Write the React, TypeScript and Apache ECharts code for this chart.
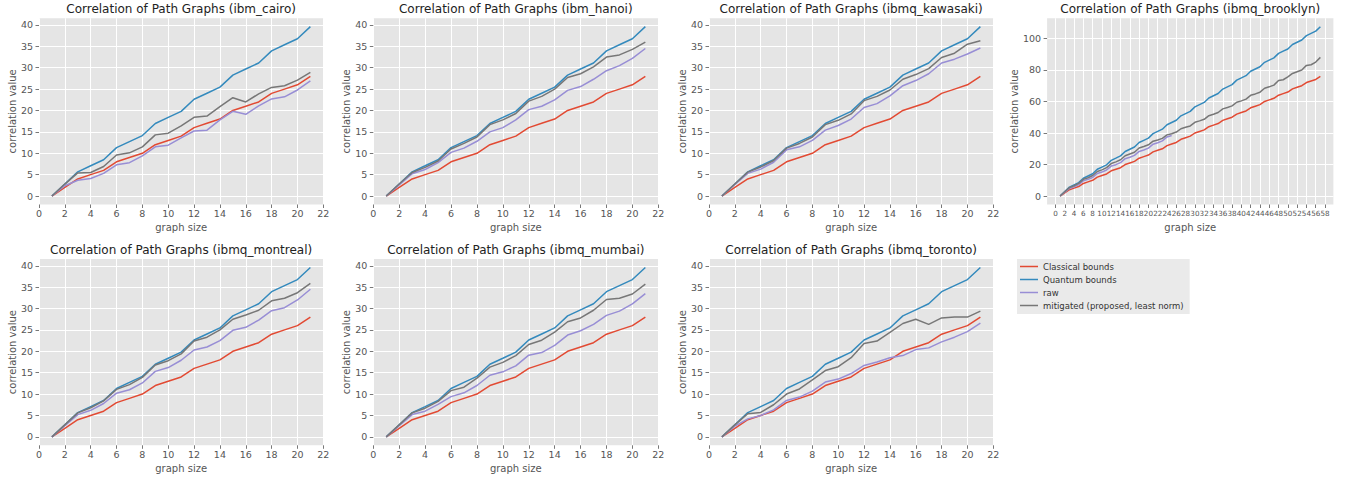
import React, { useEffect, useRef } from "react";
import * as echarts from "echarts";

// ---------- data ----------
const SERIES_NAMES = [
  "Classical bounds",
  "Quantum bounds",
  "raw",
  "mitigated (proposed, least norm)",
];

const GRAPH_SIZES = [1, 2, 3, 4, 5, 6, 7, 8, 9, 10, 11, 12, 13, 14, 15, 16, 17, 18, 19, 20, 21];
const GRAPH_SIZES_BROOKLYN = [
  1, 2, 3, 4, 5, 6, 7, 8, 9, 10, 11, 12, 13, 14, 15, 16, 17, 18, 19, 20, 21, 22, 23, 24, 25, 26, 27, 28, 29,
  30, 31, 32, 33, 34, 35, 36, 37, 38, 39, 40, 41, 42, 43, 44, 45, 46, 47, 48, 49, 50, 51, 52, 53, 54, 55, 56, 57,
];

const CLASSICAL = [0, 2, 4, 5, 6, 8, 9, 10, 12, 13, 14, 16, 17, 18, 20, 21, 22, 24, 25, 26, 28];
const QUANTUM = [0, 2.83, 5.66, 7.07, 8.49, 11.31, 12.73, 14.14, 16.97, 18.38, 19.8, 22.63, 24.04, 25.46, 28.28, 29.7, 31.11, 33.94, 35.36, 36.77, 39.6];

const CAIRO_RAW = [0, 2.4, 3.7, 4.1, 5.3, 7.3, 7.8, 9.4, 11.5, 11.9, 13.6, 15.2, 15.4, 17.8, 19.8, 19.1, 21.1, 22.7, 23.2, 24.8, 26.9];
const CAIRO_MIT = [0, 2.8, 5.4, 5.5, 6.9, 9.6, 10.1, 11.5, 14.3, 14.7, 16.4, 18.4, 18.7, 20.9, 23.0, 22.0, 23.9, 25.4, 25.8, 27.1, 28.9];

const HANOI_RAW = [0, 2.6, 5.2, 6.2, 7.8, 10.2, 11.2, 12.8, 15.0, 16.0, 17.8, 20.2, 21.0, 22.5, 24.7, 25.6, 27.3, 29.3, 30.5, 32.2, 34.5];
const HANOI_MIT = [0, 2.8, 5.5, 6.7, 8.2, 11.0, 12.3, 13.8, 16.7, 17.8, 19.3, 22.2, 23.3, 25.0, 27.7, 28.6, 30.2, 32.5, 33.0, 34.3, 36.0];

const KAWASAKI_RAW = [0, 2.7, 5.3, 6.3, 7.9, 10.8, 11.5, 13.0, 15.4, 16.5, 18.0, 20.7, 21.6, 23.4, 25.8, 27.0, 28.6, 31.1, 32.0, 33.2, 34.6];
const KAWASAKI_MIT = [0, 2.8, 5.6, 6.8, 8.3, 11.2, 12.3, 13.8, 16.7, 17.7, 19.2, 22.3, 23.3, 24.8, 27.3, 28.4, 29.8, 32.4, 33.4, 35.5, 36.3];

const BROOKLYN_CLASSICAL = [
  0, 2, 4, 5, 6, 8, 9, 10, 12, 13, 14, 16, 17, 18, 20, 21, 22, 24, 25, 26, 28, 29, 30, 32, 33, 34, 36, 37, 38,
  40, 41, 42, 44, 45, 46, 48, 49, 50, 52, 53, 54, 56, 57, 58, 60, 61, 62, 64, 65, 66, 68, 69, 70, 72, 73, 74, 76,
];
const BROOKLYN_QUANTUM = [
  0, 2.83, 5.66, 7.07, 8.49, 11.31, 12.73, 14.14, 16.97, 18.38, 19.8, 22.63, 24.04, 25.46, 28.28, 29.7, 31.11,
  33.94, 35.36, 36.77, 39.6, 41.01, 42.43, 45.25, 46.67, 48.08, 50.91, 52.33, 53.74, 56.57, 57.98, 59.4, 62.23,
  63.64, 65.05, 67.88, 69.3, 70.71, 73.54, 74.95, 76.37, 79.2, 80.61, 82.02, 84.85, 86.27, 87.68, 90.51, 91.92,
  93.34, 96.17, 97.58, 98.99, 101.82, 103.24, 104.65, 107.48,
];
const BROOKLYN_RAW = [
  0, 2.5, 4.8, 5.8, 7.2, 9.6, 10.6, 11.8, 14.3, 15.2, 16.5, 19.0, 19.9, 21.2, 23.7, 24.6, 25.8, 28.3, 29.2, 30.4,
  32.9, 33.8, 35.0, 37.5, 38.4,
];
const BROOKLYN_MIT = [
  0, 2.7, 5.3, 6.5, 8.0, 10.6, 11.6, 13.0, 15.6, 16.6, 18.0, 20.6, 21.7, 23.0, 25.6, 26.7, 27.8, 30.5, 31.4, 32.5,
  34.8, 35.6, 36.6, 38.8, 39.5, 40.6, 42.7, 43.6, 44.5, 46.8, 47.7, 48.7, 51.0, 51.9, 53.0, 55.3, 56.2, 57.2, 59.5,
  60.4, 61.5, 63.9, 64.8, 65.9, 68.4, 69.3, 70.4, 73.3, 73.8, 75.6, 77.8, 78.9, 80.0, 82.9, 83.3, 85.0, 88.0,
];

const MONTREAL_RAW = [0, 2.6, 5.2, 6.2, 7.8, 10.2, 11.0, 12.6, 15.3, 16.2, 17.9, 20.3, 21.0, 22.5, 24.9, 25.6, 27.3, 29.5, 30.2, 32.0, 34.5];
const MONTREAL_MIT = [0, 2.8, 5.6, 6.8, 8.4, 11.1, 12.2, 13.9, 16.8, 17.8, 19.4, 22.4, 23.3, 25.0, 27.5, 28.5, 29.6, 31.8, 32.4, 33.7, 35.9];

const MUMBAI_RAW = [0, 2.6, 5.2, 6.0, 7.6, 9.4, 10.3, 12.0, 14.4, 15.2, 16.6, 19.1, 19.7, 21.4, 23.8, 24.8, 26.3, 28.4, 29.4, 31.1, 33.5];
const MUMBAI_MIT = [0, 2.8, 5.6, 6.7, 8.3, 10.8, 11.6, 13.7, 16.3, 17.4, 19.0, 21.6, 22.6, 24.5, 26.9, 27.8, 29.6, 32.1, 32.4, 33.4, 35.7];

const TORONTO_RAW = [0, 2.5, 4.2, 5.0, 6.3, 8.5, 9.3, 10.7, 12.8, 13.5, 14.8, 16.7, 17.5, 18.5, 19.0, 20.4, 20.8, 22.2, 23.3, 24.6, 26.6];
const TORONTO_MIT = [0, 2.8, 5.4, 5.7, 7.5, 10.0, 11.2, 13.3, 15.5, 16.4, 18.5, 21.8, 22.4, 24.4, 26.5, 27.5, 26.3, 27.8, 28.0, 28.0, 29.4];

const X_TICKS_21 = [0, 2, 4, 6, 8, 10, 12, 14, 16, 18, 20, 22];
const X_TICKS_BROOKLYN = [
  0, 2, 4, 6, 8, 10, 12, 14, 16, 18, 20, 22, 24, 26, 28, 30, 32, 34, 36, 38, 40, 42, 44, 46, 48, 50, 52, 54, 56, 58,
];
const Y_TICKS_40 = [0, 5, 10, 15, 20, 25, 30, 35, 40];
const Y_TICKS_BROOKLYN = [0, 20, 40, 60, 80, 100];

const DEVICES = ["ibm_cairo", "ibm_hanoi", "ibmq_kawasaki", "ibmq_brooklyn", "ibmq_montreal", "ibmq_mumbai", "ibmq_toronto"];

// ---------- styles / layout ----------
const COLORS = ["#E24A33", "#348ABD", "#988ED5", "#777777"];
const FONT = "DejaVu Sans";
const ROW_TOPS = [18.2, 259];
const PLOT_H = 186.3;
const COLS = [
  { left: 39, width: 284.3 },
  { left: 373.3, width: 285 },
  { left: 709, width: 284.3 },
  { left: 1047.1, width: 286.3 },
];

type Panel = {
  title: string;
  sizes: number[];
  classical: number[];
  quantum: number[];
  raw: number[];
  mit: number[];
  xTicks: number[];
  yTicks: number[];
  row: number;
  col: number;
  xLabelSize: number;
};

const PANELS: Panel[] = [
  { title: DEVICES[0], sizes: GRAPH_SIZES, classical: CLASSICAL, quantum: QUANTUM, raw: CAIRO_RAW, mit: CAIRO_MIT, xTicks: X_TICKS_21, yTicks: Y_TICKS_40, row: 0, col: 0, xLabelSize: 9.5 },
  { title: DEVICES[1], sizes: GRAPH_SIZES, classical: CLASSICAL, quantum: QUANTUM, raw: HANOI_RAW, mit: HANOI_MIT, xTicks: X_TICKS_21, yTicks: Y_TICKS_40, row: 0, col: 1, xLabelSize: 9.5 },
  { title: DEVICES[2], sizes: GRAPH_SIZES, classical: CLASSICAL, quantum: QUANTUM, raw: KAWASAKI_RAW, mit: KAWASAKI_MIT, xTicks: X_TICKS_21, yTicks: Y_TICKS_40, row: 0, col: 2, xLabelSize: 9.5 },
  { title: DEVICES[3], sizes: GRAPH_SIZES_BROOKLYN, classical: BROOKLYN_CLASSICAL, quantum: BROOKLYN_QUANTUM, raw: BROOKLYN_RAW, mit: BROOKLYN_MIT, xTicks: X_TICKS_BROOKLYN, yTicks: Y_TICKS_BROOKLYN, row: 0, col: 3, xLabelSize: 7.2 },
  { title: DEVICES[4], sizes: GRAPH_SIZES, classical: CLASSICAL, quantum: QUANTUM, raw: MONTREAL_RAW, mit: MONTREAL_MIT, xTicks: X_TICKS_21, yTicks: Y_TICKS_40, row: 1, col: 0, xLabelSize: 9.5 },
  { title: DEVICES[5], sizes: GRAPH_SIZES, classical: CLASSICAL, quantum: QUANTUM, raw: MUMBAI_RAW, mit: MUMBAI_MIT, xTicks: X_TICKS_21, yTicks: Y_TICKS_40, row: 1, col: 1, xLabelSize: 9.5 },
  { title: DEVICES[6], sizes: GRAPH_SIZES, classical: CLASSICAL, quantum: QUANTUM, raw: TORONTO_RAW, mit: TORONTO_MIT, xTicks: X_TICKS_21, yTicks: Y_TICKS_40, row: 1, col: 2, xLabelSize: 9.5 },
];

function buildOption() {
  const grids: any[] = [];
  const xAxes: any[] = [];
  const yAxes: any[] = [];
  const series: any[] = [];
  const graphics: any[] = [];

  PANELS.forEach((p, i) => {
    const c = COLS[p.col];
    const top = ROW_TOPS[p.row];
    grids.push({
      left: c.left,
      top,
      width: c.width,
      height: PLOT_H,
      show: true,
      backgroundColor: "#E5E5E5",
      borderWidth: 0,
      containLabel: false,
    });

    const xMinD = p.sizes[0];
    const xMaxD = p.sizes[p.sizes.length - 1];
    const xm = (xMaxD - xMinD) * 0.05;
    const allY = [...p.classical, ...p.quantum, ...p.raw, ...p.mit];
    const yMinD = Math.min(...allY);
    const yMaxD = Math.max(...allY);
    const ym = (yMaxD - yMinD) * 0.05;

    const labelStyle = { color: "#555555", fontSize: 9.5, fontFamily: FONT };
    const nameStyle = { color: "#555555", fontSize: 10, fontFamily: FONT };

    xAxes.push({
      gridIndex: i,
      type: "value",
      min: xMinD - xm,
      max: xMaxD + xm,
      name: "graph size",
      nameLocation: "middle",
      nameGap: 18,
      nameTextStyle: nameStyle,
      axisLine: { show: false, onZero: false },
      axisTick: { show: true, inside: false, length: 3.5, lineStyle: { color: "#555555", width: 0.8 }, customValues: p.xTicks },
      axisLabel: {
        ...labelStyle,
        fontSize: p.xLabelSize,
        margin: p.xLabelSize < 9 ? 5 : 4,
        customValues: p.xTicks,
        showMinLabel: true,
        showMaxLabel: true,
        hideOverlap: false,
      },
      splitLine: { show: true, lineStyle: { color: "#FFFFFF", width: 1 } },
    });
    yAxes.push({
      gridIndex: i,
      type: "value",
      min: yMinD - ym,
      max: yMaxD + ym,
      name: "correlation value",
      nameLocation: "middle",
      nameGap: p.col === 3 ? 28 : 22,
      nameTextStyle: nameStyle,
      axisLine: { show: false, onZero: false },
      axisTick: { show: true, inside: false, length: 3.5, lineStyle: { color: "#555555", width: 0.8 }, customValues: p.yTicks },
      axisLabel: { ...labelStyle, margin: 6, customValues: p.yTicks, showMinLabel: true, showMaxLabel: true },
      splitLine: { show: true, lineStyle: { color: "#FFFFFF", width: 1 } },
    });

    const lines = [p.classical, p.quantum, p.raw, p.mit];
    lines.forEach((vals, k) => {
      series.push({
        type: "line",
        name: SERIES_NAMES[k],
        xAxisIndex: i,
        yAxisIndex: i,
        data: vals.map((v, j) => [p.sizes[j], v]),
        showSymbol: false,
        symbol: "none",
        color: COLORS[k],
        lineStyle: { color: COLORS[k], width: 1.5 },
        itemStyle: { color: COLORS[k] },
        z: 2 + k,
      });
    });

    graphics.push({
      type: "text",
      x: c.left + c.width / 2,
      y: top - 9,
      style: {
        text: "Correlation of Path Graphs (" + p.title + ")",
        font: `12px "${FONT}"`,
        fill: "#222222",
        align: "center",
        verticalAlign: "middle",
        textAlign: "center",
        textVerticalAlign: "middle",
      },
    });
  });

  return {
    animation: false,
    backgroundColor: "#FFFFFF",
    textStyle: { fontFamily: FONT },
    grid: grids,
    xAxis: xAxes,
    yAxis: yAxes,
    series,
    graphic: graphics,
    legend: {
      data: SERIES_NAMES,
      orient: "vertical",
      left: 1017,
      top: 259,
      icon: "rect",
      itemWidth: 18,
      itemHeight: 1.5,
      itemGap: 0,
      padding: [1, 6, 2, 3],
      backgroundColor: "#EAEAEA",
      borderWidth: 0,
      selectedMode: false,
      textStyle: { fontSize: 8.5, color: "#333333", lineHeight: 13, fontFamily: FONT },
    },
  };
}

export default function App() {
  const ref = useRef<HTMLDivElement>(null);
  useEffect(() => {
    if (!ref.current) return;
    const chart = echarts.init(ref.current, null, { renderer: "svg" });
    chart.setOption(buildOption() as any);
    return () => chart.dispose();
  }, []);
  return (
    <div
      ref={ref}
      style={{ position: "absolute", left: 0, top: 0, width: 1349, height: 479 }}
    />
  );
}
